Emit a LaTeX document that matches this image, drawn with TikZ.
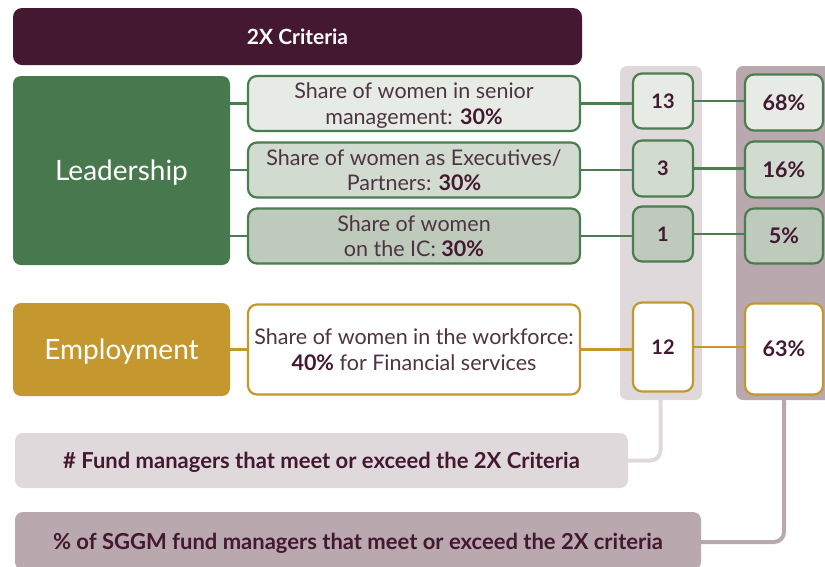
\documentclass[tikz,border=0pt]{standalone}
\usepackage{fontspec}
\setmainfont{Lato}
\usetikzlibrary{positioning}
\definecolor{titlemaroon}{HTML}{431830}
\definecolor{leadgreen}{HTML}{48784D}
\definecolor{linegreen}{HTML}{4A7D50}
\definecolor{employgold}{HTML}{C5972F}
\definecolor{rowone}{HTML}{E6ECE5}
\definecolor{rowtwo}{HTML}{D1DBCF}
\definecolor{rowthree}{HTML}{BECABB}
\definecolor{countgrey}{HTML}{E0D9DC}
\definecolor{sharemauve}{HTML}{B9A8AD}
\definecolor{bodytext}{HTML}{4E3443}

\begin{document}
\begin{tikzpicture}[
    x=1pt, y=-1pt,
    every node/.style={inner sep=0pt, outer sep=0pt, text depth=0pt},
    catbox/.style={rectangle, rounded corners=8pt, fill=#1, text=white, minimum width=217pt, font=\fontsize{28}{32}\selectfont},
    critbox/.style={rectangle, draw=#1, line width=2.2pt, rounded corners=9pt, minimum width=332pt, align=center, text=bodytext, font=\fontsize{21.5}{25.5}\selectfont},
    numbox/.style={rectangle, draw=#1, line width=2.2pt, rounded corners=9pt, minimum width=60pt, text=titlemaroon, font=\fontsize{20}{23}\selectfont\bfseries},
    pctbox/.style={rectangle, draw=#1, line width=2.2pt, rounded corners=9pt, minimum width=78pt, text=titlemaroon, font=\fontsize{21.5}{23}\selectfont\bfseries},
    columnbg/.style={rectangle, rounded corners=7pt, fill=#1, minimum width=82pt, minimum height=334pt},
    legendbox/.style={rectangle, rounded corners=8pt, fill=#1, minimum height=55pt, text=titlemaroon, font=\fontsize{22}{26}\selectfont\bfseries},
    link/.style={draw=#1, line width=2.2pt},
    feed/.style={draw=#1, line width=4pt, rounded corners=10pt},
]
\useasboundingbox (0,0) rectangle (825,566);
\begin{scope}
\clip (0,0) rectangle (825,566);

% Column backgrounds
\node[columnbg=countgrey] (countcol) at (661,233) {};
\node[columnbg=sharemauve, minimum width=100pt] (sharecol) at (786,233) {};

% Title
\node[rectangle, rounded corners=9pt, fill=titlemaroon, text=white, minimum width=569pt, minimum height=57pt, font=\fontsize{21}{24}\selectfont\bfseries] (title) at (297.5,36.5) {2X Criteria};

% Categories
\node[catbox=leadgreen, minimum height=189pt] (lead) at (121.5,170.5) {Leadership};
\node[catbox=employgold, minimum height=93pt] (employ) at (121.5,349.5) {Employment};

% Criteria
\node[critbox=linegreen, fill=rowone, minimum height=55pt] (senior) at (414,103.5) {Share of women in senior\\management: \textcolor{titlemaroon}{\bfseries 30\%}};
\node[critbox=linegreen, fill=rowtwo, minimum height=55pt] (exec) at (414,170) {Share of women as Executives/\\Partners: \textcolor{titlemaroon}{\bfseries 30\%}};
\node[critbox=linegreen, fill=rowthree, minimum height=55pt] (ic) at (414,236) {Share of women\\on the IC: \textcolor{titlemaroon}{\bfseries 30\%}};
\node[critbox=employgold, fill=white, minimum height=90pt] (work) at (414,349.5) {Share of women in the workforce:\\\textcolor{titlemaroon}{\bfseries 40\%} for Financial services};

% Counts
\node[numbox=linegreen, fill=rowone, minimum height=55pt] (nsenior) at (663,101) {13};
\node[numbox=linegreen, fill=rowtwo, minimum height=56pt] (nexec) at (663,168.5) {3};
\node[numbox=linegreen, fill=rowthree, minimum height=55pt] (nic) at (663,234) {1};
\node[numbox=employgold, fill=white, minimum height=89pt] (nwork) at (663,347) {12};

% Shares
\node[pctbox=linegreen, fill=rowone, minimum height=56pt] (psenior) at (784,102.5) {68\%};
\node[pctbox=linegreen, fill=rowtwo, minimum height=56pt] (pexec) at (784,169.5) {16\%};
\node[pctbox=linegreen, fill=rowthree, minimum height=55pt] (pic) at (784,236) {5\%};
\node[pctbox=employgold, fill=white, minimum height=91pt] (pwork) at (784,349) {63\%};

% Legends
\node[legendbox=countgrey, minimum width=613pt] (countlegend) at (321.5,460.5) {\# Fund managers that meet or exceed the 2X Criteria};
\node[legendbox=sharemauve, minimum width=686pt, minimum height=58pt] (sharelegend) at (358,541) {\% of SGGM fund managers that meet or exceed the 2X criteria};

% Links
\foreach \crit/\num/\pct in {senior/nsenior/psenior, exec/nexec/pexec, ic/nic/pic}{
  \draw[link=linegreen] (lead.east |- \crit.west) -- (\crit.west);
  \draw[link=linegreen] (\crit.east) -- (\crit.east -| \num.west);
  \draw[link=linegreen] (\num.east) -- (\num.east -| \pct.west);
}
\draw[link=employgold] (employ.east |- work.west) -- (work.west);
\draw[link=employgold] (work.east) -- (work.east -| nwork.west);
\draw[link=employgold] (nwork.east) -- (nwork.east -| pwork.west);

% Feeds to legends
\draw[feed=countgrey] ([xshift=-0.5pt]countcol.south) |- (countlegend.east);
\draw[feed=sharemauve] ([xshift=-2pt]sharecol.south) |- ([yshift=-1pt]sharelegend.east);
\end{scope}
\end{tikzpicture}
\end{document}
